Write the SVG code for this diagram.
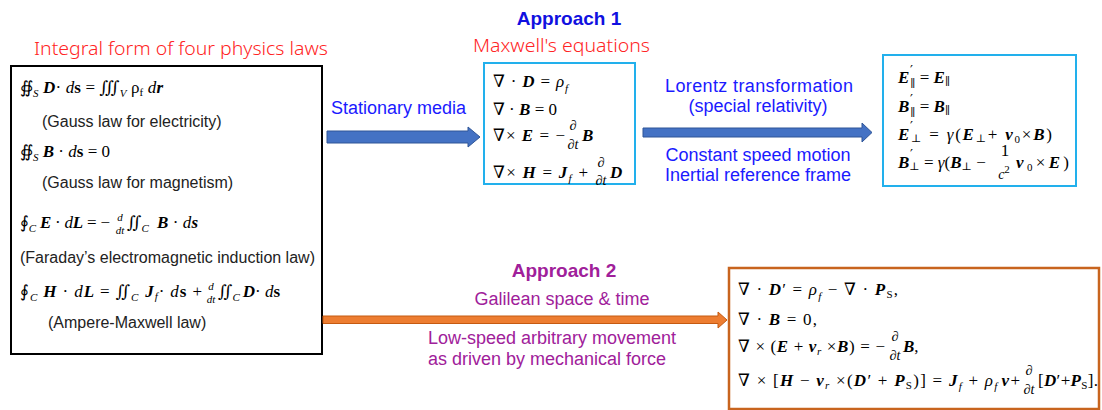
<svg xmlns="http://www.w3.org/2000/svg" width="1102" height="410" viewBox="0 0 1102 410">
<defs>
<style>
.sans{font-family:"Liberation Sans",Arial,sans-serif}
.thin{font-family:"Noto Sans","Liberation Sans",sans-serif;font-weight:300}
.m{font-family:"Liberation Serif","DejaVu Serif",serif;font-size:17px;fill:#000}
.bi{font-weight:bold;font-style:italic}
.it{font-style:italic}
.b{font-weight:bold}
.s{font-size:11px}
.pr{font-family:"DejaVu Serif",serif;font-size:13px;fill:#000}
.fr{font-size:14px}
.red{fill:#ff2424}
.blue{fill:#1a1aff}
.dblue{fill:#1010e0}
.purple{fill:#a0209a}
.note{font-size:16px;fill:#222}
.box{fill:#fff}
</style>
</defs>
<rect width="1102" height="410" fill="#fff"/>

<text class="thin red" x="34" y="55" font-size="18.5" textLength="294" lengthAdjust="spacingAndGlyphs">Integral form of four physics laws</text>
<text class="sans dblue" x="569" y="25" text-anchor="middle" font-size="19" font-weight="bold">Approach 1</text>
<text class="thin red" x="473" y="52" font-size="18.5" textLength="177" lengthAdjust="spacingAndGlyphs">Maxwell's equations</text>

<g id="integral-laws">
<rect class="box" x="11" y="66" width="311" height="288" stroke="#000" stroke-width="2"/>
<text class="m" x="20" y="93" font-size="18" textLength="143">∯<tspan class="it s" dy="4">S</tspan><tspan dy="-4" class="bi"> D</tspan>· <tspan class="it">d</tspan><tspan class="b">s</tspan> = ∭<tspan class="it s" dy="4">V</tspan><tspan dy="-4"> ρ</tspan><tspan class="s" dy="3">f</tspan><tspan dy="-3" class="it"> d</tspan><tspan class="bi">r</tspan></text>
<text class="sans note" x="42" y="127">(Gauss law for electricity)</text>
<text class="m" x="20" y="157" font-size="18" textLength="90">∯<tspan class="it s" dy="4">S</tspan><tspan dy="-4" class="bi"> B</tspan> · <tspan class="it">d</tspan><tspan class="b">s</tspan> = 0</text>
<text class="sans note" x="42" y="188">(Gauss law for magnetism)</text>
<text class="m" x="20" y="228" font-size="18" textLength="90">∮<tspan class="it s" dy="4">C</tspan><tspan dy="-4" class="bi"> E</tspan> · <tspan class="it">d</tspan><tspan class="bi">L</tspan> = −</text>
<text class="m it s" x="120" y="221" text-anchor="middle">d</text>
<text class="m it s" x="120" y="234" text-anchor="middle">dt</text>
<text class="m" x="127" y="228" font-size="18" textLength="71">∬<tspan class="it s" dy="4">C</tspan><tspan dy="-4" class="bi" dx="8">B</tspan> · <tspan class="it">d</tspan><tspan class="bi">s</tspan></text>
<text class="sans note" x="20" y="263">(Faraday’s electromagnetic induction law)</text>
<text class="m" x="20" y="297" font-size="18" textLength="182">∮<tspan class="it s" dy="4">C</tspan><tspan dy="-4" class="bi"> H</tspan> · <tspan class="it">d</tspan><tspan class="bi">L</tspan> = ∬<tspan class="it s" dy="4">C</tspan><tspan dy="-4" class="bi" dx="6">J</tspan><tspan class="it s" dy="3">f</tspan><tspan dy="-3">· </tspan><tspan class="it">d</tspan><tspan class="b">s</tspan> +</text>
<text class="m it s" x="211" y="290" text-anchor="middle">d</text>
<text class="m it s" x="211" y="303" text-anchor="middle">dt</text>
<text class="m" x="218" y="297" font-size="17">∬<tspan class="it s" dy="4">C</tspan><tspan dy="-4" class="bi" dx="3">D</tspan>· <tspan class="it">d</tspan><tspan class="b">s</tspan></text>
<text class="sans note" x="48" y="328">(Ampere-Maxwell law)</text>
</g>

<g id="maxwell">
<rect class="box" x="484" y="63" width="151" height="121" stroke="#22b0ec" stroke-width="2"/>
<text class="m" x="493" y="87" font-size="18" textLength="75">∇ · <tspan class="bi">D</tspan> = <tspan class="it">ρ</tspan><tspan class="it s" dy="5">f</tspan></text>
<text class="m" x="493" y="115" font-size="18">∇ · <tspan class="bi">B</tspan>  = 0</text>
<text class="m" x="493" y="141" font-size="18" textLength="72">∇× <tspan class="bi">E</tspan> = −</text>
<text class="m it fr" x="573" y="130" text-anchor="middle">∂</text>
<text class="m it fr" x="573" y="149" text-anchor="middle">∂t</text>
<text class="m bi" x="582" y="141" font-size="18">B</text>
<text class="m" x="493" y="178" font-size="18" textLength="95">∇× <tspan class="bi">H</tspan> = <tspan class="bi">J</tspan><tspan class="it s" dy="4">f</tspan><tspan dy="-4"> +</tspan></text>
<text class="m it fr" x="601" y="167" text-anchor="middle">∂</text>
<text class="m it fr" x="601" y="185" text-anchor="middle">∂t</text>
<text class="m bi" x="610" y="178" font-size="18">D</text>
</g>

<g id="lorentz">
<rect class="box" x="883" y="55" width="193" height="131" stroke="#22b0ec" stroke-width="2"/>
<text class="m" x="898" y="83" font-size="18"><tspan class="bi">E</tspan><tspan class="s" dx="1" dy="4">∥</tspan><tspan dy="-4"> = </tspan><tspan class="bi">E</tspan><tspan class="s" dy="2">∥</tspan></text>
<text class="pr" x="910" y="75">′</text>
<text class="m" x="898" y="112" font-size="18"><tspan class="bi">B</tspan><tspan class="s" dx="1" dy="4">∥</tspan><tspan dy="-4"> = </tspan><tspan class="bi">B</tspan><tspan class="s" dy="2">∥</tspan></text>
<text class="pr" x="910" y="104">′</text>
<text class="m" x="898" y="140" font-size="18" textLength="154"><tspan class="bi">E</tspan><tspan class="s" dy="2">⊥</tspan><tspan dy="-2"> = </tspan><tspan class="it">γ</tspan>(<tspan class="bi">E</tspan><tspan class="s" dy="2">⊥</tspan><tspan dy="-2">+ </tspan><tspan class="bi">v</tspan><tspan class="s" dy="3">0</tspan><tspan dy="-3">×</tspan><tspan class="bi">B</tspan>)</text>
<text class="pr" x="910" y="131">′</text>
<text class="m" x="898" y="168" font-size="18"><tspan class="bi">B</tspan><tspan class="s" dy="2">⊥</tspan><tspan dy="-2"> = </tspan><tspan class="it">γ</tspan>(<tspan class="bi">B</tspan><tspan class="s" dy="2">⊥</tspan><tspan dy="-2"> − </tspan></text>
<text class="pr" x="910" y="159">′</text>
<text class="m" x="1005" y="156" font-size="11" text-anchor="middle">1</text>
<text class="m fr it" x="1004" y="179" text-anchor="middle">c<tspan class="s" dy="-6" font-style="normal">2</tspan></text>
<text class="m" x="1016" y="168" font-size="18" textLength="53"><tspan class="bi">v</tspan><tspan class="s" dy="3">0</tspan><tspan dy="-3">×</tspan><tspan class="bi">E</tspan>)</text>
</g>

<g id="galilean">
<rect class="box" x="729" y="268" width="370" height="141" stroke="#c8641e" stroke-width="2.5"/>
<text class="m" x="738" y="295" textLength="160">∇ · <tspan class="bi">D</tspan>′  =  <tspan class="it">ρ</tspan><tspan class="it s" dy="5">f</tspan><tspan dy="-5"> − ∇ · </tspan><tspan class="bi">P</tspan><tspan class="s" dy="3">S</tspan><tspan dy="-3">,</tspan></text>
<text class="m" x="738" y="325" textLength="79">∇ · <tspan class="bi">B</tspan>  =  0,</text>
<text class="m" x="738" y="352" textLength="147">∇ × (<tspan class="bi">E</tspan> + <tspan class="bi">v</tspan><tspan class="it s" dy="3">r</tspan><tspan dy="-3"> ×</tspan><tspan class="bi">B</tspan>) = −</text>
<text class="m it fr" x="895" y="341" text-anchor="middle">∂</text>
<text class="m it fr" x="895" y="360" text-anchor="middle">∂t</text>
<text class="m" x="903" y="352"><tspan class="bi">B</tspan>,</text>
<text class="m" x="738" y="386" textLength="282">∇ × [<tspan class="bi">H</tspan>  − <tspan class="bi">v</tspan><tspan class="it s" dy="3">r</tspan><tspan dy="-3"> ×(</tspan><tspan class="bi">D</tspan>′ + <tspan class="bi">P</tspan><tspan class="s" dy="3">S</tspan><tspan dy="-3">)] = </tspan><tspan class="bi">J</tspan><tspan class="it s" dy="4">f</tspan><tspan dy="-4"> + </tspan><tspan class="it">ρ</tspan><tspan class="it s" dy="4">f</tspan><tspan dy="-4" dx="3" class="bi">v</tspan>+</text>
<text class="m it fr" x="1029" y="375" text-anchor="middle">∂</text>
<text class="m it fr" x="1029" y="394" text-anchor="middle">∂t</text>
<text class="m" x="1038" y="386" textLength="60">[<tspan class="bi">D</tspan>′+<tspan class="bi">P</tspan><tspan class="s" dy="3">S</tspan><tspan dy="-3">].</tspan></text>
</g>

<g id="connectors">
<polygon points="327,131 468,131 468,127 480,137 468,147 468,143 327,143" fill="#4472c4" stroke="#2f5597" stroke-width="1"/>
<text class="sans blue" x="331" y="114" font-size="18">Stationary media</text>
<polygon points="643,128 862,128 862,123 872,132.5 862,142 862,137 643,137" fill="#4472c4" stroke="#2f5597" stroke-width="1"/>
<text class="sans blue" x="665" y="92" font-size="18" textLength="188">Lorentz  transformation</text>
<text class="sans blue" x="758" y="112" text-anchor="middle" font-size="18">(special relativity)</text>
<text class="sans blue" x="758" y="161" text-anchor="middle" font-size="18">Constant speed motion</text>
<text class="sans blue" x="758" y="181" text-anchor="middle" font-size="18">Inertial reference frame</text>
<polygon points="323,316 718,316 718,312 727,320 718,328 718,323.5 323,323.5" fill="#ed7d31" stroke="#c55a11" stroke-width="1"/>
<text class="sans purple" x="564" y="277" text-anchor="middle" font-size="19" font-weight="bold">Approach 2</text>
<text class="sans purple" x="562" y="305" text-anchor="middle" font-size="18">Galilean space &amp; time</text>
<text class="sans purple" x="428" y="344" font-size="18">Low-speed arbitrary movement</text>
<text class="sans purple" x="428" y="365" font-size="18">as driven by mechanical force</text>
</g>
</svg>
